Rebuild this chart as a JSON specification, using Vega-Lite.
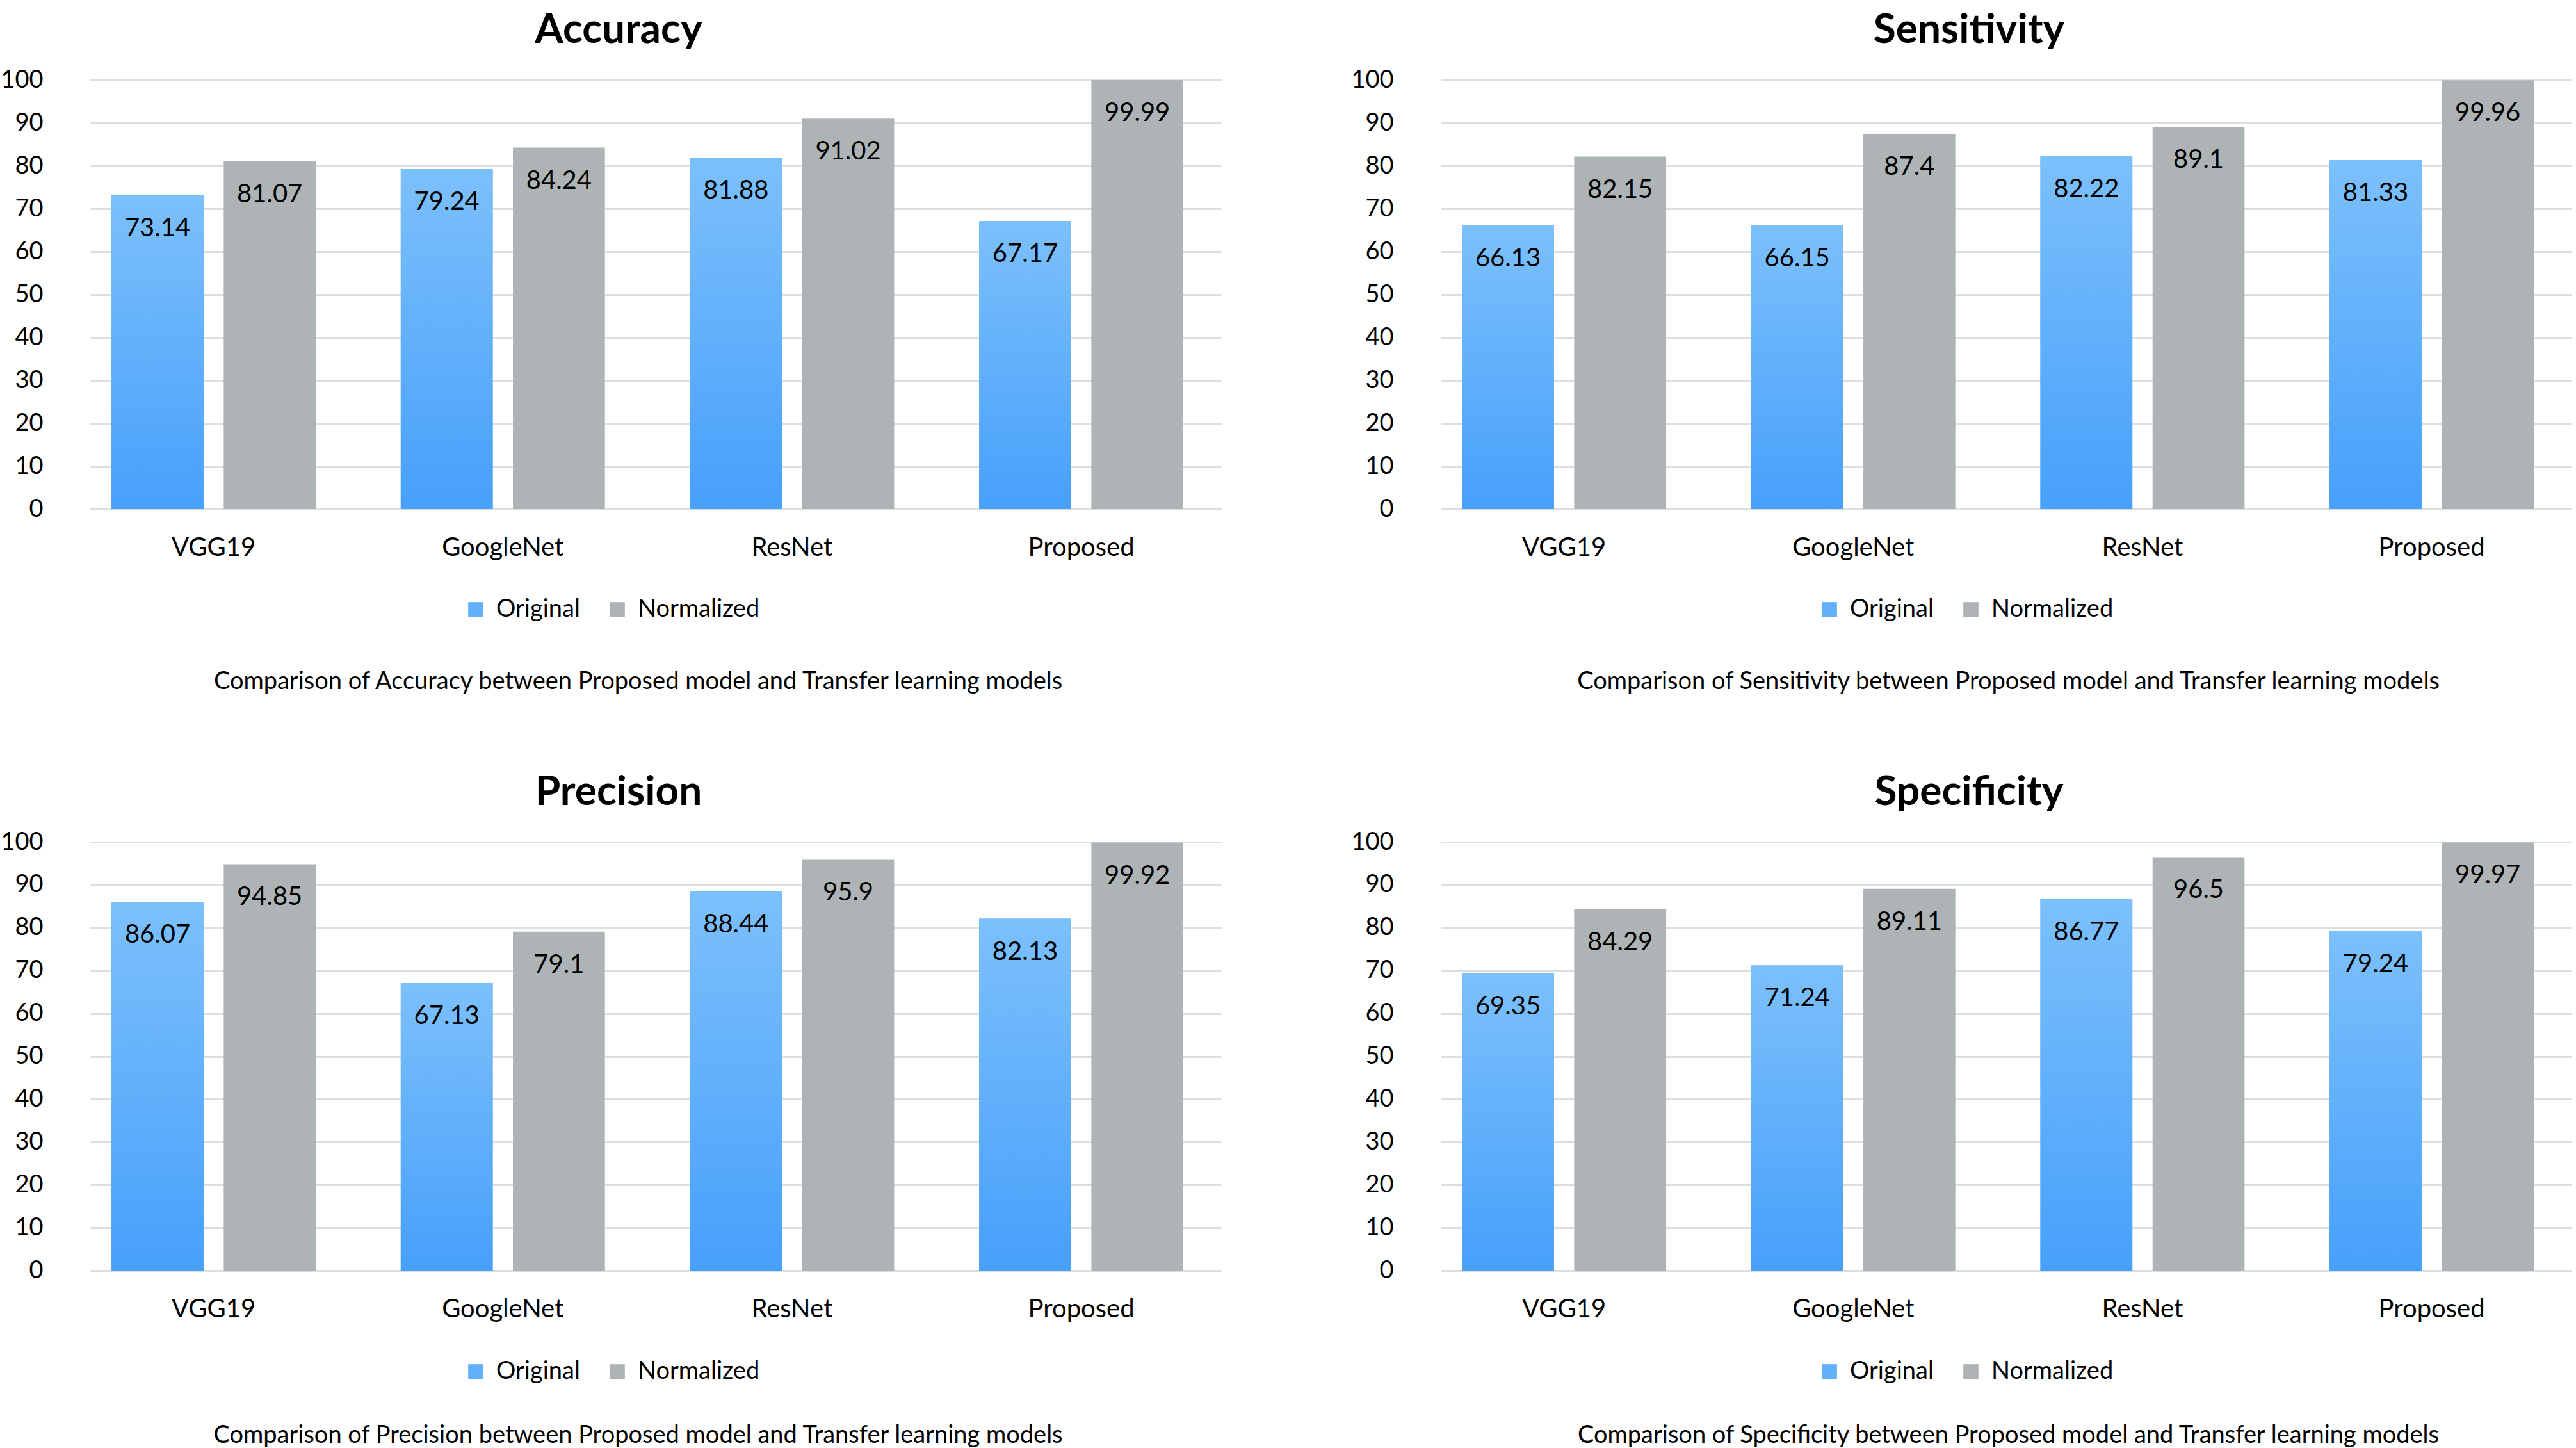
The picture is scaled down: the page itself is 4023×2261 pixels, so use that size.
{
  "$schema": "https://vega.github.io/schema/vega-lite/v6.json",
  "padding": {"top": 16, "left": 0, "right": 0, "bottom": 0},
  "background": "white",
  "config": {
    "font": "Lato",
    "view": {"stroke": null},
    "title": {"font": "Lato", "fontSize": 64, "fontWeight": "bold", "color": "#000000", "baseline": "alphabetic", "anchor": "middle", "offset": 26, "dx": -58},
    "axis": {"labelFont": "Lato", "titleFont": "Lato", "labelColor": "#000000", "titleColor": "#000000", "labelLimit": 0},
    "legend": {"labelFont": "Lato", "labelLimit": 0}
  },
  "datasets": {
    "acc": [
      {"model": "VGG19", "series": "Original", "value": 73.14},
      {"model": "VGG19", "series": "Normalized", "value": 81.07},
      {"model": "GoogleNet", "series": "Original", "value": 79.24},
      {"model": "GoogleNet", "series": "Normalized", "value": 84.24},
      {"model": "ResNet", "series": "Original", "value": 81.88},
      {"model": "ResNet", "series": "Normalized", "value": 91.02},
      {"model": "Proposed", "series": "Original", "value": 67.17},
      {"model": "Proposed", "series": "Normalized", "value": 99.99}
    ],
    "sens": [
      {"model": "VGG19", "series": "Original", "value": 66.13},
      {"model": "VGG19", "series": "Normalized", "value": 82.15},
      {"model": "GoogleNet", "series": "Original", "value": 66.15},
      {"model": "GoogleNet", "series": "Normalized", "value": 87.4},
      {"model": "ResNet", "series": "Original", "value": 82.22},
      {"model": "ResNet", "series": "Normalized", "value": 89.1},
      {"model": "Proposed", "series": "Original", "value": 81.33},
      {"model": "Proposed", "series": "Normalized", "value": 99.96}
    ],
    "prec": [
      {"model": "VGG19", "series": "Original", "value": 86.07},
      {"model": "VGG19", "series": "Normalized", "value": 94.85},
      {"model": "GoogleNet", "series": "Original", "value": 67.13},
      {"model": "GoogleNet", "series": "Normalized", "value": 79.1},
      {"model": "ResNet", "series": "Original", "value": 88.44},
      {"model": "ResNet", "series": "Normalized", "value": 95.9},
      {"model": "Proposed", "series": "Original", "value": 82.13},
      {"model": "Proposed", "series": "Normalized", "value": 99.92}
    ],
    "spec": [
      {"model": "VGG19", "series": "Original", "value": 69.35},
      {"model": "VGG19", "series": "Normalized", "value": 84.29},
      {"model": "GoogleNet", "series": "Original", "value": 71.24},
      {"model": "GoogleNet", "series": "Normalized", "value": 89.11},
      {"model": "ResNet", "series": "Original", "value": 86.77},
      {"model": "ResNet", "series": "Normalized", "value": 96.5},
      {"model": "Proposed", "series": "Original", "value": 79.24},
      {"model": "Proposed", "series": "Normalized", "value": 99.97}
    ]
  },
  "spacing": 123,
  "resolve": {"scale": {"color": "independent"}},
  "vconcat": [
    {
      "spacing": 202,
      "resolve": {"scale": {"color": "independent"}},
      "hconcat": [
        {
          "title": "Accuracy",
          "width": 1766, "height": 670,
          "data": {"name": "acc"},
          "encoding": {
            "x": {"field": "model", "type": "nominal", "sort": ["VGG19", "GoogleNet", "ResNet", "Proposed"], "scale": {"paddingInner": 0.294, "paddingOuter": 0.102, "align": 0.36},
              "axis": {"title": "Comparison of Accuracy between Proposed model and Transfer learning models", "titleX": 855, "titleAlign": "center", "titleFontSize": 38, "titleFontWeight": "normal", "titlePadding": 170, "labelAngle": 0, "labelFontSize": 40, "labelPadding": 40, "ticks": false, "domain": true, "domainColor": "#dcdfdf", "domainWidth": 3}},
            "xOffset": {"field": "series", "type": "nominal", "sort": ["Original", "Normalized"], "scale": {"paddingInner": 0.18}},
            "y": {"field": "value", "type": "quantitative", "scale": {"domain": [0, 100], "nice": false},
              "axis": {"title": null, "values": [0, 10, 20, 30, 40, 50, 60, 70, 80, 90, 100], "labelFontSize": 38, "labelPadding": 74, "ticks": false, "domain": false, "grid": true, "gridColor": "#dcdfdf", "gridWidth": 3}}
          },
          "layer": [
            {"mark": {"type": "bar"},
             "encoding": {"color": {"field": "series", "type": "nominal", "scale": {"domain": ["Original", "Normalized"], "range": ["#62b0fb", "#aeb4b5"]},
               "legend": {"title": null, "orient": "none", "legendX": 583, "legendY": 808, "direction": "horizontal", "symbolType": "square", "symbolSize": 560, "symbolStrokeWidth": 0, "labelFontSize": 38, "labelOffset": 13, "columnPadding": 39, "padding": 0, "labelColor": "#000000"}}}},
            {"transform": [{"filter": "datum.series === 'Original'"}],
             "mark": {"type": "bar", "fill": {"gradient": "linear", "x1": 0, "y1": 0, "x2": 0, "y2": 1, "stops": [{"offset": 0, "color": "#7cc0fb"}, {"offset": 1, "color": "#47a0fb"}]}}},
            {"mark": {"type": "text", "baseline": "middle", "dy": 52, "fontSize": 40, "font": "Lato", "color": "#000000"},
             "encoding": {"text": {"field": "value", "type": "quantitative"}}}
          ]
        },
        {
          "title": "Sensitivity",
          "width": 1766, "height": 670,
          "data": {"name": "sens"},
          "encoding": {
            "x": {"field": "model", "type": "nominal", "sort": ["VGG19", "GoogleNet", "ResNet", "Proposed"], "scale": {"paddingInner": 0.294, "paddingOuter": 0.102, "align": 0.36},
              "axis": {"title": "Comparison of Sensitivity between Proposed model and Transfer learning models", "titleX": 886, "titleAlign": "center", "titleFontSize": 38, "titleFontWeight": "normal", "titlePadding": 170, "labelAngle": 0, "labelFontSize": 40, "labelPadding": 40, "ticks": false, "domain": true, "domainColor": "#dcdfdf", "domainWidth": 3}},
            "xOffset": {"field": "series", "type": "nominal", "sort": ["Original", "Normalized"], "scale": {"paddingInner": 0.18}},
            "y": {"field": "value", "type": "quantitative", "scale": {"domain": [0, 100], "nice": false},
              "axis": {"title": null, "values": [0, 10, 20, 30, 40, 50, 60, 70, 80, 90, 100], "labelFontSize": 38, "labelPadding": 74, "ticks": false, "domain": false, "grid": true, "gridColor": "#dcdfdf", "gridWidth": 3}}
          },
          "layer": [
            {"mark": {"type": "bar"},
             "encoding": {"color": {"field": "series", "type": "nominal", "scale": {"domain": ["Original", "Normalized"], "range": ["#62b0fb", "#aeb4b5"]},
               "legend": {"title": null, "orient": "none", "legendX": 588, "legendY": 808, "direction": "horizontal", "symbolType": "square", "symbolSize": 560, "symbolStrokeWidth": 0, "labelFontSize": 38, "labelOffset": 13, "columnPadding": 39, "padding": 0, "labelColor": "#000000"}}}},
            {"transform": [{"filter": "datum.series === 'Original'"}],
             "mark": {"type": "bar", "fill": {"gradient": "linear", "x1": 0, "y1": 0, "x2": 0, "y2": 1, "stops": [{"offset": 0, "color": "#7cc0fb"}, {"offset": 1, "color": "#47a0fb"}]}}},
            {"mark": {"type": "text", "baseline": "middle", "dy": 52, "fontSize": 40, "font": "Lato", "color": "#000000"},
             "encoding": {"text": {"field": "value", "type": "quantitative"}}}
          ]
        }
      ]
    },
    {
      "spacing": 202,
      "resolve": {"scale": {"color": "independent"}},
      "hconcat": [
        {
          "title": "Precision",
          "width": 1766, "height": 669,
          "data": {"name": "prec"},
          "encoding": {
            "x": {"field": "model", "type": "nominal", "sort": ["VGG19", "GoogleNet", "ResNet", "Proposed"], "scale": {"paddingInner": 0.294, "paddingOuter": 0.102, "align": 0.36},
              "axis": {"title": "Comparison of Precision between Proposed model and Transfer learning models", "titleX": 855, "titleAlign": "center", "titleFontSize": 38, "titleFontWeight": "normal", "titlePadding": 158, "labelAngle": 0, "labelFontSize": 40, "labelPadding": 40, "ticks": false, "domain": true, "domainColor": "#dcdfdf", "domainWidth": 3}},
            "xOffset": {"field": "series", "type": "nominal", "sort": ["Original", "Normalized"], "scale": {"paddingInner": 0.18}},
            "y": {"field": "value", "type": "quantitative", "scale": {"domain": [0, 100], "nice": false},
              "axis": {"title": null, "values": [0, 10, 20, 30, 40, 50, 60, 70, 80, 90, 100], "labelFontSize": 38, "labelPadding": 74, "ticks": false, "domain": false, "grid": true, "gridColor": "#dcdfdf", "gridWidth": 3}}
          },
          "layer": [
            {"mark": {"type": "bar"},
             "encoding": {"color": {"field": "series", "type": "nominal", "scale": {"domain": ["Original", "Normalized"], "range": ["#62b0fb", "#aeb4b5"]},
               "legend": {"title": null, "orient": "none", "legendX": 583, "legendY": 808, "direction": "horizontal", "symbolType": "square", "symbolSize": 560, "symbolStrokeWidth": 0, "labelFontSize": 38, "labelOffset": 13, "columnPadding": 39, "padding": 0, "labelColor": "#000000"}}}},
            {"transform": [{"filter": "datum.series === 'Original'"}],
             "mark": {"type": "bar", "fill": {"gradient": "linear", "x1": 0, "y1": 0, "x2": 0, "y2": 1, "stops": [{"offset": 0, "color": "#7cc0fb"}, {"offset": 1, "color": "#47a0fb"}]}}},
            {"mark": {"type": "text", "baseline": "middle", "dy": 52, "fontSize": 40, "font": "Lato", "color": "#000000"},
             "encoding": {"text": {"field": "value", "type": "quantitative"}}}
          ]
        },
        {
          "title": "Specificity",
          "width": 1766, "height": 669,
          "data": {"name": "spec"},
          "encoding": {
            "x": {"field": "model", "type": "nominal", "sort": ["VGG19", "GoogleNet", "ResNet", "Proposed"], "scale": {"paddingInner": 0.294, "paddingOuter": 0.102, "align": 0.36},
              "axis": {"title": "Comparison of Specificity between Proposed model and Transfer learning models", "titleX": 886, "titleAlign": "center", "titleFontSize": 38, "titleFontWeight": "normal", "titlePadding": 158, "labelAngle": 0, "labelFontSize": 40, "labelPadding": 40, "ticks": false, "domain": true, "domainColor": "#dcdfdf", "domainWidth": 3}},
            "xOffset": {"field": "series", "type": "nominal", "sort": ["Original", "Normalized"], "scale": {"paddingInner": 0.18}},
            "y": {"field": "value", "type": "quantitative", "scale": {"domain": [0, 100], "nice": false},
              "axis": {"title": null, "values": [0, 10, 20, 30, 40, 50, 60, 70, 80, 90, 100], "labelFontSize": 38, "labelPadding": 74, "ticks": false, "domain": false, "grid": true, "gridColor": "#dcdfdf", "gridWidth": 3}}
          },
          "layer": [
            {"mark": {"type": "bar"},
             "encoding": {"color": {"field": "series", "type": "nominal", "scale": {"domain": ["Original", "Normalized"], "range": ["#62b0fb", "#aeb4b5"]},
               "legend": {"title": null, "orient": "none", "legendX": 588, "legendY": 808, "direction": "horizontal", "symbolType": "square", "symbolSize": 560, "symbolStrokeWidth": 0, "labelFontSize": 38, "labelOffset": 13, "columnPadding": 39, "padding": 0, "labelColor": "#000000"}}}},
            {"transform": [{"filter": "datum.series === 'Original'"}],
             "mark": {"type": "bar", "fill": {"gradient": "linear", "x1": 0, "y1": 0, "x2": 0, "y2": 1, "stops": [{"offset": 0, "color": "#7cc0fb"}, {"offset": 1, "color": "#47a0fb"}]}}},
            {"mark": {"type": "text", "baseline": "middle", "dy": 52, "fontSize": 40, "font": "Lato", "color": "#000000"},
             "encoding": {"text": {"field": "value", "type": "quantitative"}}}
          ]
        }
      ]
    }
  ]
}
